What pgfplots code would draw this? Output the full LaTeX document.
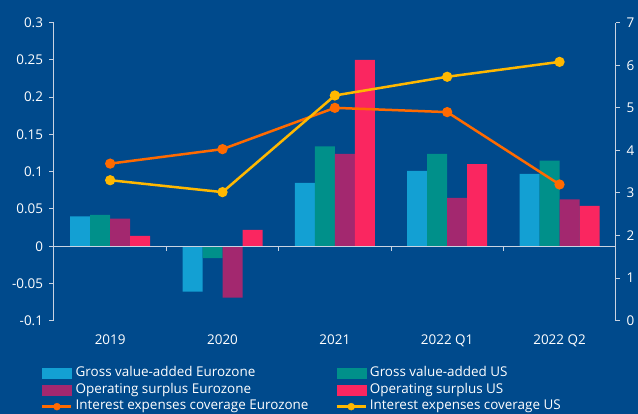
\documentclass[border=0pt]{standalone}
\usepackage{pgfplots}
\pgfplotsset{compat=1.18}
\usepackage{fontspec}
\setmainfont{Open Sans}
\definecolor{bg}{HTML}{004A8C}
\definecolor{axcol}{HTML}{C9D3E2}
\definecolor{gvaez}{HTML}{13A0D3}
\definecolor{gvaus}{HTML}{00908A}
\definecolor{osez}{HTML}{A3286F}
\definecolor{osus}{HTML}{FA2660}
\definecolor{ieez}{HTML}{FF6A00}
\definecolor{ieus}{HTML}{FFB800}
\newcommand{\lfont}{\fontsize{13.5}{15}\selectfont}
\begin{document}
\begin{tikzpicture}
\fill[bg] (-54bp,-93.3bp) rectangle (584bp,320.7bp);
\path[use as bounding box] (-54bp,-93.3bp) rectangle (584bp,320.7bp);
\begin{axis}[
  at={(0,0)}, anchor=south west,
  scale only axis, width=561.7bp, height=298bp,
  xmin=-0.5, xmax=4.5, ymin=-0.1, ymax=0.3,
  axis y line*=left, axis x line*=bottom,
  x axis line style={draw=none},
  axis line style={axcol, line width=1bp},
  ytick={-0.1,-0.05,0,0.05,0.1,0.15,0.2,0.25,0.3},
  yticklabels={-0.1,-0.05,0,0.05,0.1,0.15,0.2,0.25,0.3},
  xtick={0,1,2,3,4},
  xticklabels={2019,2020,2021,2022 Q1,2022 Q2},
  x tick style={draw=none},
  y tick style={axcol, line width=1bp},
  tick align=outside, major tick length=4.5bp,
  tick label style={white, font=\lfont},
  xticklabel style={yshift=-6bp},
  yticklabel style={xshift=-3bp},
  ybar, bar width=0.178,
]
\addplot[fill=gvaez, draw=none, bar shift=-0.267] coordinates {(0,0.040) (1,-0.061) (2,0.085) (3,0.101) (4,0.097)};
\addplot[fill=gvaus, draw=none, bar shift=-0.089] coordinates {(0,0.042) (1,-0.016) (2,0.134) (3,0.124) (4,0.115)};
\addplot[fill=osez, draw=none, bar shift=0.089] coordinates {(0,0.037) (1,-0.069) (2,0.124) (3,0.065) (4,0.063)};
\addplot[fill=osus, draw=none, bar shift=0.267] coordinates {(0,0.014) (1,0.022) (2,0.250) (3,0.110) (4,0.054)};
\draw[axcol, line width=1bp] (axis cs:-0.5,0) -- (axis cs:4.5,0);
\pgfplotsinvokeforeach{0.5,1.5,2.5,3.5}{\draw[axcol, line width=1bp] (axis cs:#1,0) -- ++(0bp,-5bp);}
\end{axis}
\begin{axis}[
  at={(0,0)}, anchor=south west,
  scale only axis, width=561.7bp, height=298bp,
  xmin=-0.5, xmax=4.5, ymin=0, ymax=7,
  axis y line*=right, axis x line=none,
  axis line style={axcol, line width=1bp},
  ytick={0,1,2,3,4,5,6,7},
  /pgf/number format/assume math mode=true,
  y tick style={axcol, line width=1bp},
  tick align=outside, major tick length=4.5bp,
  tick label style={white, font=\lfont},
  yticklabel style={xshift=3bp},
  legend columns=2,
  legend style={at={(0,0)}, anchor=north west, xshift=-13bp, yshift=-46.5bp,
    draw=none, fill=none, text=white, font=\lfont, inner sep=0pt,
    row sep=4.0bp,
    nodes={inner sep=0pt, text height=9.5bp, text depth=3bp},
    cells={anchor=west},
    /tikz/every odd column/.append style={column sep=3bp},
    /tikz/every even column/.append style={column sep=27bp}},
]
\addlegendimage{legend image code/.code={\fill[gvaez] (0bp,-5bp) rectangle (29bp,5bp);}}
\addlegendimage{legend image code/.code={\fill[gvaus] (0bp,-5bp) rectangle (29bp,5bp);}}
\addlegendimage{legend image code/.code={\fill[osez] (0bp,-5bp) rectangle (29bp,5bp);}}
\addlegendimage{legend image code/.code={\fill[osus] (0bp,-5bp) rectangle (29bp,5bp);}}
\addlegendimage{legend image code/.code={\draw[ieez, line width=2.5bp] (0bp,0bp) -- (29bp,0bp); \fill[ieez] (14.5bp,0bp) circle (3.5bp);}}
\addlegendimage{legend image code/.code={\draw[ieus, line width=2.5bp] (0bp,0bp) -- (29bp,0bp); \fill[ieus] (14.5bp,0bp) circle (3.5bp);}}
\addplot[forget plot, ieez, line width=2.5bp, mark=*, mark size=3.8bp] coordinates {(0,3.69) (1,4.03) (2,5.00) (3,4.90) (4,3.20)};
\addplot[forget plot, ieus, line width=2.5bp, mark=*, mark size=3.8bp] coordinates {(0,3.30) (1,3.02) (2,5.29) (3,5.73) (4,6.08)};
\legend{Gross value-added Eurozone, Gross value-added US, Operating surplus Eurozone, Operating surplus US, Interest expenses coverage Eurozone, Interest expenses coverage US}
\end{axis}
\end{tikzpicture}
\end{document}
